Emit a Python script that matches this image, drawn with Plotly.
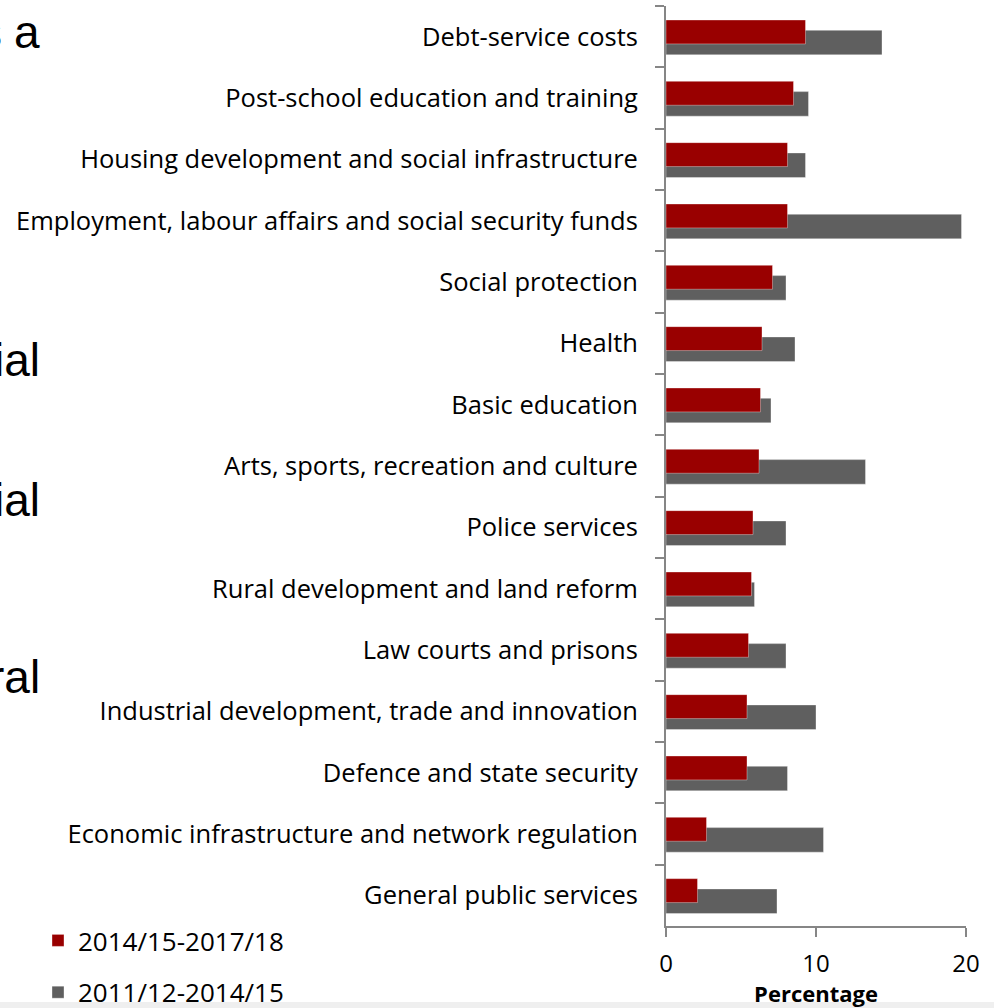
import plotly.graph_objects as go

categories = [
    "Debt-service costs",
    "Post-school education and training",
    "Housing development and social infrastructure",
    "Employment, labour affairs and social security funds",
    "Social protection",
    "Health",
    "Basic education",
    "Arts, sports, recreation and culture",
    "Police services",
    "Rural development and land reform",
    "Law courts and prisons",
    "Industrial development, trade and innovation",
    "Defence and state security",
    "Economic infrastructure and network regulation",
    "General public services",
]
series_recent_name = "2014/15-2017/18"
series_recent = [9.3, 8.5, 8.1, 8.1, 7.1, 6.4, 6.3, 6.2, 5.8, 5.7, 5.5, 5.4, 5.4, 2.7, 2.1]
series_past_name = "2011/12-2014/15"
series_past = [14.4, 9.5, 9.3, 19.7, 8.0, 8.6, 7.0, 13.3, 8.0, 5.9, 8.0, 10.0, 8.1, 10.5, 7.4]
x_ticks = [0, 10, 20]

FONT = "Open Sans"
AXIS_COLOR = "#868686"

fig = go.Figure()
fig.add_trace(go.Bar(
    y=categories, x=series_past, orientation="h", name=series_past_name,
    marker=dict(color="#5f5f5f", line=dict(color="rgba(255,255,255,0.35)", width=1)),
    offset=-0.104, width=0.40, legendrank=2, legendgroup="past",
))
fig.add_trace(go.Bar(
    y=categories, x=series_recent, orientation="h", name=series_recent_name,
    marker=dict(color="#990000", line=dict(color="rgba(255,255,255,0.35)", width=1)),
    offset=-0.272, width=0.39, legendrank=1, legendgroup="recent",
))

fig.update_layout(
    width=994, height=1008,
    margin=dict(l=666, r=28, t=6, b=82, autoexpand=False),
    paper_bgcolor="white", plot_bgcolor="white",
    barmode="overlay",
    font=dict(family=FONT, size=25, color="#000000"),
    showlegend=True,
    legend=dict(
        xref="container", yref="container",
        x=38 / 994, xanchor="left", y=1 - 917 / 1008, yanchor="top",
        font=dict(family=FONT, size=26, color="#000000"),
        bgcolor="rgba(0,0,0,0)", tracegroupgap=15,
        itemwidth=30,
    ),
)

fig.update_yaxes(
    type="category", categoryorder="array", categoryarray=categories,
    range=[14.5, -0.5], autorange=False,
    showline=True, linecolor=AXIS_COLOR, linewidth=2,
    ticks="outside", tickson="boundaries", ticklen=9, tickwidth=2, tickcolor=AXIS_COLOR,
    ticklabelstandoff=21,
    showgrid=False, zeroline=False, automargin=False,
    tickfont=dict(family=FONT, size=25.5, color="#000000"),
)
fig.update_xaxes(
    range=[0, 20], tickvals=x_ticks, ticktext=[str(v) for v in x_ticks],
    showline=True, linecolor=AXIS_COLOR, linewidth=2,
    ticks="outside", ticklen=9, tickwidth=2, tickcolor=AXIS_COLOR,
    ticklabelstandoff=6,
    showgrid=False, zeroline=False, automargin=False,
    tickfont=dict(family=FONT, size=24, color="#000000"),
    title=dict(text="<b>Percentage</b>", font=dict(family=FONT, size=22, color="#000000"), standoff=30),
)

# fragments of the surrounding slide text, cut off at the left edge
slide_font = dict(family="Liberation Sans", size=46, color="#000000")
slide_fragments = [("s", 4, 32), ("a", 42, 32), ("cial", 42, 360), ("cial", 42, 500), ("ral", 42, 677)]
for txt, xpx, ypx in slide_fragments:
    fig.add_annotation(
        text=txt, xref="paper", yref="paper",
        x=(xpx - 666) / 300, xanchor="right",
        y=(926 - ypx) / 920, yanchor="middle",
        showarrow=False, font=slide_font,
    )

# light strip at the bottom edge of the slide capture
fig.add_shape(type="rect", xref="paper", yref="paper",
              x0=-666 / 300, x1=(994 - 666) / 300,
              y0=(926 - 1010) / 920, y1=(926 - 1002) / 920,
              fillcolor="#efefef", line=dict(width=0), layer="above")

fig.write_html("out.html")
